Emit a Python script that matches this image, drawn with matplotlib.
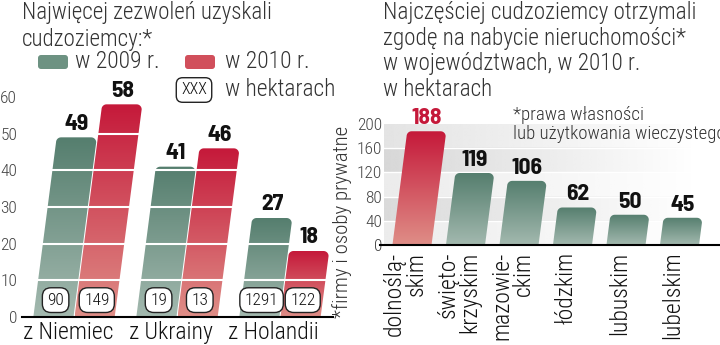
import numpy as np
import matplotlib
matplotlib.use('Agg')
import matplotlib.pyplot as plt
from matplotlib.patches import Polygon, FancyBboxPatch
from matplotlib.colors import LinearSegmentedColormap, to_rgb

plt.rcParams['font.family'] = ['Roboto Condensed', 'DejaVu Sans']
plt.rcParams['font.weight'] = 'light'

# left chart: permits by country
countries = ['z Niemiec', 'z Ukrainy', 'z Holandii']
permits_2009 = [49, 41, 27]
permits_2010 = [58, 46, 18]
hectares_2009 = ['90', '19', '1291']
hectares_2010 = ['149', '13', '122']

# right chart: hectares by voivodeship, 2010
regions = ['dolnoślą-\nskim', 'święto-\nkrzyskim', 'mazowie-\nckim', 'łódzkim', 'lubuskim', 'lubelskim']
region_ha = [188, 119, 106, 62, 50, 45]

GREEN = ('#557e6e', '#a3b9af')
RED = ('#c5193a', '#df8e87')
TXT = '#333333'
BOLD = dict(family=['Barlow Semi Condensed', 'DejaVu Sans'], fontweight='bold')

W, H = 720, 345
fig = plt.figure(figsize=(W / 100, H / 100), dpi=100)


def px_box(x0, y0, x1, y1):
    return [x0 / W, 1 - y1 / H, (x1 - x0) / W, (y1 - y0) / H]


def slanted_bar(ax, xc, h, width, colors, slant, rx, ry, z=2):
    x0, x1 = xc - width / 2, xc + width / 2
    pts = [(x0, 0)]
    cx, cy = x0 + slant * (h - ry) + rx, h - ry
    for a in np.linspace(np.pi, np.pi / 2, 8):
        pts.append((cx + rx * np.cos(a), cy + ry * np.sin(a)))
    cx = x1 + slant * (h - ry) - rx
    for a in np.linspace(np.pi / 2, 0, 8):
        pts.append((cx + rx * np.cos(a), cy + ry * np.sin(a)))
    pts.append((x1, 0))
    poly = Polygon(pts, closed=True, fc='none', ec='none', zorder=z)
    ax.add_patch(poly)
    cmap = LinearSegmentedColormap.from_list('g', [colors[1], colors[0]])
    grad = np.linspace(0, 1, 256).reshape(-1, 1)
    im = ax.imshow(grad, cmap=cmap, extent=[x0, x1 + slant * h, 0, h],
                   origin='lower', aspect='auto', zorder=z)
    im.set_clip_path(poly)


# ---------------- left chart ----------------
ax1 = fig.add_axes(px_box(22, 97, 333, 317))
ax1.set_facecolor('none')
xl1 = (-0.505, 2.515)
px_x1 = 311 / (xl1[1] - xl1[0])
px_y1 = 220 / 60
s1 = 0.13 * px_y1 / px_x1
bw = 0.39
for i in range(len(countries)):
    for off, v, lab, col in [(-0.2, permits_2009[i], hectares_2009[i], GREEN),
                             (0.2, permits_2010[i], hectares_2010[i], RED)]:
        xc = i + off
        slanted_bar(ax1, xc, v, bw, col, s1, 5 / px_x1, 5 / px_y1)
        ax1.text(xc + s1 * v, v + 1.0, str(v), ha='center', va='bottom',
                 fontsize=17, color='#111111', zorder=8, **BOLD)
        ax1.text(xc + s1 * 4.6, 4.6, lab, ha='center', va='center', fontsize=12.5,
                 color='#111111', zorder=6,
                 bbox=dict(boxstyle='round,pad=0.28,rounding_size=0.5', fc='white',
                           ec='#222222', lw=1))
for y in range(10, 60, 10):
    ax1.axhline(y, color='white', lw=1.5, zorder=4)
ax1.set_xlim(*xl1)
ax1.set_ylim(0, 60)
ax1.set_yticks(range(0, 70, 10))
ax1.set_xticks([i - 0.06 for i in range(len(countries))])
ax1.set_xticklabels(countries, fontsize=17, color='#111111')
ax1.tick_params(length=0, pad=3, axis='x')
ax1.tick_params(axis='y', length=0, pad=3.5, labelsize=12.5, labelcolor='#444444')
for sp in ['top', 'right', 'left']:
    ax1.spines[sp].set_visible(False)
ax1.spines['bottom'].set_linewidth(1.5)
ax1.spines['bottom'].set_zorder(7)

# ---------------- right chart ----------------
ax2 = fig.add_axes(px_box(384, 124, 720, 245))
ax2.set_facecolor('none')
xl2 = (-0.523, 5.757)
px_x2 = 336 / (xl2[1] - xl2[0])
px_y2 = 121 / 200
s2 = 0.13 * px_y2 / px_x2

band_cols = ['#ececec', '#dadada', '#ececec', '#d8d8d8', '#e4e4e4']
fade = np.clip(1 - np.linspace(0, 1, 300) / 0.92, 0, 1)
for k, c in enumerate(band_cols):
    img = np.zeros((1, 300, 4))
    img[..., :3] = to_rgb(c)
    img[..., 3] = fade
    ax2.imshow(img, extent=[xl2[0], xl2[1], 40 * k, 40 * k + 40],
               aspect='auto', zorder=0)
    ax2.axhline(40 * k, color='white', lw=1, zorder=1)

top = int(np.argmax(region_ha))
for i, v in enumerate(region_ha):
    col = RED if i == top else GREEN
    slanted_bar(ax2, i, v, 0.73, col, s2, 5 / px_x2, 5 / px_y2)
    ax2.text(i + s2 * v, v + 5, str(v), ha='center', va='bottom', fontsize=17,
             color=RED[0] if i == top else '#111111', zorder=8, **BOLD)
    ax2.text(i - 0.12, -11, regions[i], rotation=90, ha='center', va='top',
             multialignment='right', fontsize=17, color='#111111',
             linespacing=0.95, clip_on=False)
ax2.set_xlim(*xl2)
ax2.set_ylim(0, 200)
ax2.set_yticks(range(0, 240, 40))
ax2.set_xticks([])
ax2.tick_params(axis='y', length=0, pad=1.5, labelsize=12.5, labelcolor='#444444')
for sp in ['top', 'right', 'left']:
    ax2.spines[sp].set_visible(False)
ax2.spines['bottom'].set_linewidth(1.5)
ax2.spines['bottom'].set_bounds(xl2[0] - 0.08, xl2[1])
ax2.spines['bottom'].set_zorder(7)

# ---------------- overlay in pixel units ----------------
ov = fig.add_axes([0, 0, 1, 1], zorder=10)
ov.set_xlim(0, W)
ov.set_ylim(H, 0)
ov.axis('off')
ov.patch.set_alpha(0)

ov.text(22, 1, 'Najwięcej zezwoleń uzyskali\ncudzoziemcy:*', fontsize=16.6,
        color=TXT, va='top', ha='left', linespacing=1.22)
ov.add_patch(FancyBboxPatch((38, 55), 30, 14, boxstyle='round,pad=0,rounding_size=3',
                            fc='#6d9282', ec='none'))
ov.text(75, 62, 'w 2009 r.', fontsize=17, color=TXT, va='center')
ov.add_patch(FancyBboxPatch((185, 55), 30, 14, boxstyle='round,pad=0,rounding_size=3',
                            fc='#d14f5b', ec='none'))
ov.text(225, 62, 'w 2010 r.', fontsize=17, color=TXT, va='center')
ov.text(194, 90, 'XXX', fontsize=11.5, color='#111111', va='center', ha='center',
        bbox=dict(boxstyle='round,pad=0.3,rounding_size=0.4', fc='white',
                  ec='#222222', lw=1))
ov.text(225, 90, 'w hektarach', fontsize=16.8, color=TXT, va='center')
ov.text(342, 318, '*firmy i osoby prywatne', rotation=90, fontsize=15,
        color=TXT, va='bottom', ha='center')

ov.text(383, 1, 'Najczęściej cudzoziemcy otrzymali\nzgodę na nabycie nieruchomości*\n'
        'w województwach, w 2010 r.\nw hektarach', fontsize=16.7, color=TXT,
        va='top', ha='left', linespacing=1.15)
ov.text(513, 106, '*prawa własności\nlub użytkowania wieczystego', fontsize=13.6,
        color=TXT, va='top', ha='left', linespacing=1.1)

fig.savefig('out.png', dpi=100)
